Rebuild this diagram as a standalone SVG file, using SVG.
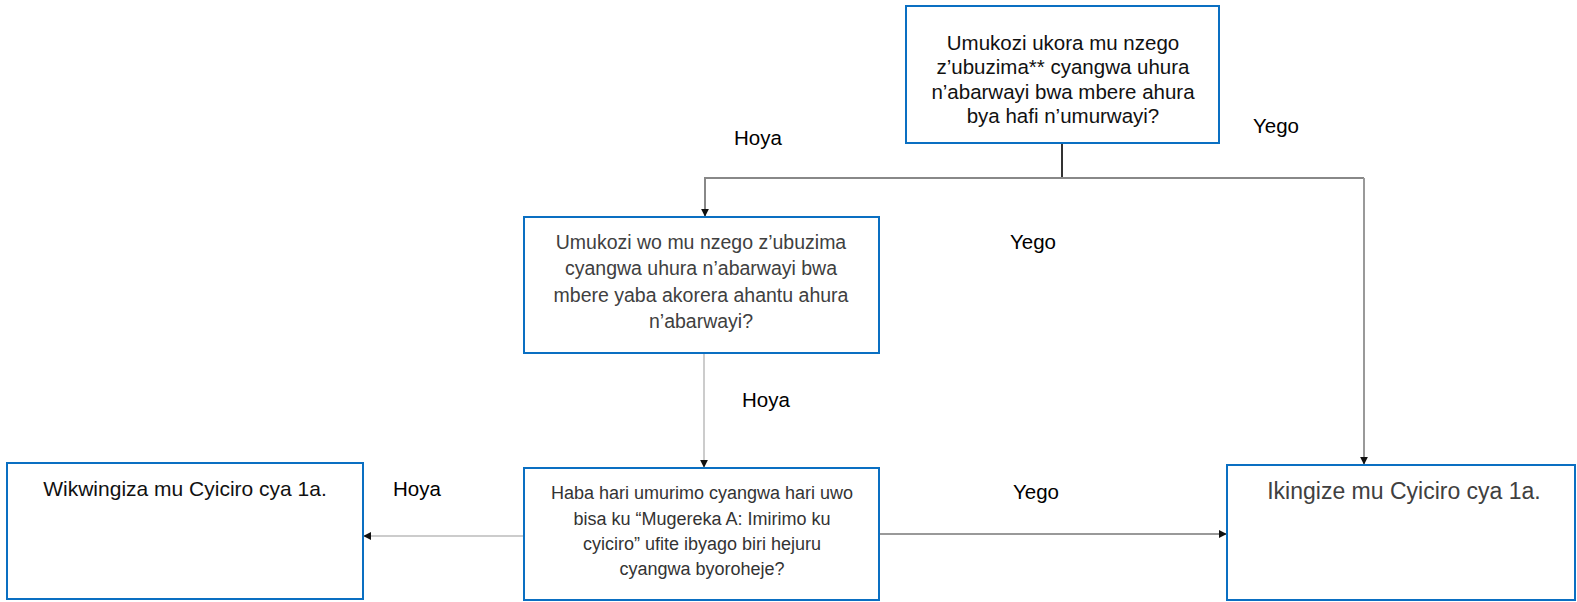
<svg xmlns="http://www.w3.org/2000/svg" width="1577" height="602" viewBox="0 0 1577 602">
<style>
.box{fill:#fff;stroke:#0a6fc2;stroke-width:2}
.t{font-family:"Liberation Sans",Arial,sans-serif;font-size:18px;text-anchor:middle}
.top{font-size:20.5px}
.mid{font-size:19.5px}
.big{font-size:21px}
.big2{font-size:23px}
.lbl{font-family:"Liberation Sans",Arial,sans-serif;font-size:20.5px;fill:#000;text-anchor:middle}
.dark{fill:#111}
.gray{fill:#404040}
</style>
<defs>
<marker id="ah" viewBox="0 0 10 10" refX="9" refY="5" markerWidth="8" markerHeight="8" orient="auto" markerUnits="userSpaceOnUse">
<path d="M0,0 L10,5 L0,10 z" fill="#111"/>
</marker>
</defs>
<rect width="1577" height="602" fill="#fff"/>
<g id="connectors" fill="none">
<line x1="1062" y1="144" x2="1062" y2="178" stroke="#333" stroke-width="2"/>
<line x1="704" y1="178" x2="1364" y2="178" stroke="#888" stroke-width="2"/>
<path d="M705,178 V216" stroke="#888" stroke-width="2" marker-end="url(#ah)"/>
<path d="M1364,178 V464" stroke="#999" stroke-width="2" marker-end="url(#ah)"/>
<path d="M704,354 V467" stroke="#ccc" stroke-width="2" marker-end="url(#ah)"/>
<path d="M524,536 H364" stroke="#ccc" stroke-width="2" marker-end="url(#ah)"/>
<path d="M879,534 H1226" stroke="#999" stroke-width="2" marker-end="url(#ah)"/>
</g>
<g id="n1">
<rect class="box" x="906" y="6" width="313" height="137"/>
<text class="t top dark" x="1063" y="50">Umukozi ukora mu nzego</text>
<text class="t top dark" x="1063" y="74">z’ubuzima** cyangwa uhura</text>
<text class="t top dark" x="1063" y="99">n’abarwayi bwa mbere ahura</text>
<text class="t top dark" x="1063" y="123">bya hafi n’umurwayi?</text>
</g>
<g id="n2">
<rect class="box" x="524" y="217" width="355" height="136"/>
<text class="t mid gray" x="701" y="249">Umukozi wo mu nzego z’ubuzima</text>
<text class="t mid gray" x="701" y="275">cyangwa uhura n’abarwayi bwa</text>
<text class="t mid gray" x="701" y="302">mbere yaba akorera ahantu ahura</text>
<text class="t mid gray" x="701" y="328">n’abarwayi?</text>
</g>
<g id="n3">
<rect class="box" x="524" y="468" width="355" height="132"/>
<text class="t" fill="#333" x="702" y="499">Haba hari umurimo cyangwa hari uwo</text>
<text class="t" fill="#333" x="702" y="525">bisa ku “Mugereka A: Imirimo ku</text>
<text class="t" fill="#333" x="702" y="550">cyiciro” ufite ibyago biri hejuru</text>
<text class="t" fill="#333" x="702" y="575">cyangwa byoroheje?</text>
</g>
<g id="n4">
<rect class="box" x="7" y="463" width="356" height="136"/>
<text class="t big dark" x="185" y="496">Wikwingiza mu Cyiciro cya 1a.</text>
</g>
<g id="n5">
<rect class="box" x="1227" y="465" width="348" height="135"/>
<text class="t big2 gray" x="1404" y="499">Ikingize mu Cyiciro cya 1a.</text>
</g>
<g id="labels">
<text class="lbl" x="758" y="145">Hoya</text>
<text class="lbl" x="1276" y="133">Yego</text>
<text class="lbl" x="1033" y="249">Yego</text>
<text class="lbl" x="766" y="407">Hoya</text>
<text class="lbl" x="417" y="496">Hoya</text>
<text class="lbl" x="1036" y="499">Yego</text>
</g>
</svg>
